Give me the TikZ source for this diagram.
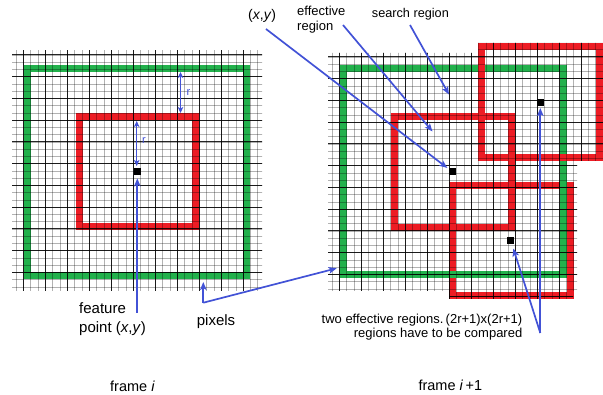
\documentclass[tikz,border=0pt]{standalone}
\usepackage{fontspec}
\setmainfont{Liberation Sans}
\usetikzlibrary{arrows.meta}
\definecolor{gr}{RGB}{34,177,76}
\definecolor{rd}{RGB}{237,28,36}
\definecolor{bl}{RGB}{66,82,214}
\begin{document}
\begin{tikzpicture}[x=1pt,y=-1pt,
  thingrid/.style={line width=0.8pt, black, opacity=0.3},
  thickgrid/.style={line width=1pt, black, opacity=0.85},
  greenbox/.style={draw=gr, line width=7pt},
  redbox/.style={draw=rd, line width=7pt},
  pixdot/.style={fill=black, minimum size=7pt, inner sep=0pt},
  conn/.style={draw=bl, line width=1.7pt, -{Stealth[length=8pt,width=6.5pt,inset=2pt]}},
  rarrow/.style={draw=bl, line width=1.5pt, {Stealth[length=6pt,width=5.5pt,inset=1.5pt]}-{Stealth[length=6pt,width=5.5pt,inset=1.5pt]}},
  lbl/.style={inner sep=0pt, font=\fontsize{15}{18.5}\selectfont, align=left},
  smalllbl/.style={inner sep=0pt, font=\fontsize{13}{14.5}\selectfont, align=left},
  rlbl/.style={inner sep=0pt, font=\fontsize{11}{12}\selectfont, text=bl},
]
\useasboundingbox (0,0) rectangle (603,395);

% ---------- frame i ----------
\draw[greenbox] (27.8,68.3) rectangle (246.5,275.5);
\draw[redbox] (79.3,116.7) rectangle (195.7,226.7);
\begin{scope}
  \clip (12,51) rectangle (262,291);
  \foreach \k in {0,...,33} \draw[thingrid] ({16+7.33*\k},40) -- ++(0,260);
  \foreach \j in {0,...,32} \draw[thingrid] (0,{55+7.25*\j}) -- ++(280,0);
  \foreach \k in {1,4,...,31} \draw[thickgrid] ({16+7.33*\k},40) -- ++(0,260);
  \foreach \j in {0,3,...,30} \draw[thickgrid] (0,{55+7.25*\j}) -- ++(280,0);
\end{scope}
\node[pixdot] (dL) at (137.3,171.7) {};

% ---------- frame i+1 ----------
\draw[redbox] (452.3,185.7) rectangle (570,296);
\draw[greenbox] (343.3,68.3) rectangle (563.3,275);
\draw[redbox] (394.3,116.7) rectangle (511,227.3);
\draw[redbox] (481.7,46.7) rectangle (599.3,157.7);
\begin{scope}
  \clip (328,53) rectangle (577,291) (478,43) rectangle (603,161) (449,182) rectangle (573,299);
  \foreach \k in {0,...,37} \draw[thingrid] ({332+7.33*\k},30) -- ++(0,280);
  \foreach \j in {-2,...,34} \draw[thingrid] (320,{57+7.25*\j}) -- ++(290,0);
  \foreach \k in {1,4,...,37} \draw[thickgrid] ({332+7.33*\k},30) -- ++(0,280);
  \foreach \j in {0,3,...,33} \draw[thickgrid] (320,{57+7.25*\j}) -- ++(290,0);
\end{scope}
\node[pixdot] (dM) at (452.6,172) {};
\node[pixdot] (dT) at (540.3,102.8) {};
\node[pixdot] (dB) at (510.9,241) {};

% ---------- r arrows ----------
\coordinate (r1a) at (180.5,72);
\coordinate (r1b) at (180.5,113);
\draw[rarrow] (r1a) -- (r1b);
\node[rlbl] (r1) at (188.5,93) {r};
\coordinate (r2a) at (136.7,121);
\coordinate (r2b) at (136.7,166);
\draw[rarrow] (r2a) -- (r2b);
\node[rlbl] (r2) at (144,140.5) {r};

% ---------- labels ----------
\node[lbl, anchor=base west] (feat) at (79,332.5) {feature\\point (\textit{x},\textit{y})};
\node[lbl, anchor=base west] (pix) at (196.7,326) {pixels};
\node[inner sep=0pt, font=\fontsize{14}{16}\selectfont, anchor=base west] (xy) at (248,19.5) {(\textit{x},\textit{y})};
\node[smalllbl, anchor=base west] (eff) at (297,30.5) {effective\\region};
\node[inner sep=0pt, font=\fontsize{12.7}{14}\selectfont, anchor=base west] (search) at (371.7,17.5) {search region};
\node[inner sep=0pt, font=\fontsize{13}{13.5}\selectfont, align=right, anchor=base east] (two) at (522.5,337.5) {two effective regions.\,(2r+1)x(2r+1)\\regions have to be compared};
\node[inner sep=0pt, font=\fontsize{14.5}{16}\selectfont, anchor=base west] (fi) at (110,391.5) {frame \textit{i}};
\node[inner sep=0pt, font=\fontsize{14.5}{16}\selectfont, anchor=base west] (fi1) at (418.3,391) {frame \textit{i}\,+1};

% ---------- connectors ----------
\coordinate (fS) at (137.3,313);
\draw[conn, shorten >=3pt] (fS) -- (dL);
\coordinate (pV) at (203.3,302.7);
\coordinate (pU) at (203.3,282);
\coordinate (pR) at (336.7,268.3);
\draw[conn] (pV) -- (pU);
\draw[conn] (pV) -- (pR);
\coordinate (xyS) at (266,29);
\draw[conn, shorten >=2pt] (xyS) -- (dM);
\coordinate (eS) at (343,25);
\coordinate (eE) at (432.5,131.5);
\draw[conn] (eS) -- (eE);
\coordinate (sS) at (410,25);
\coordinate (sE) at (449,94.5);
\draw[conn] (sS) -- (sE);
\coordinate (bV) at (540.3,333);
\draw[conn, shorten >=1.5pt] (bV) -- (dT);
\draw[conn, shorten >=4pt] (bV) -- (dB);
\end{tikzpicture}
\end{document}
